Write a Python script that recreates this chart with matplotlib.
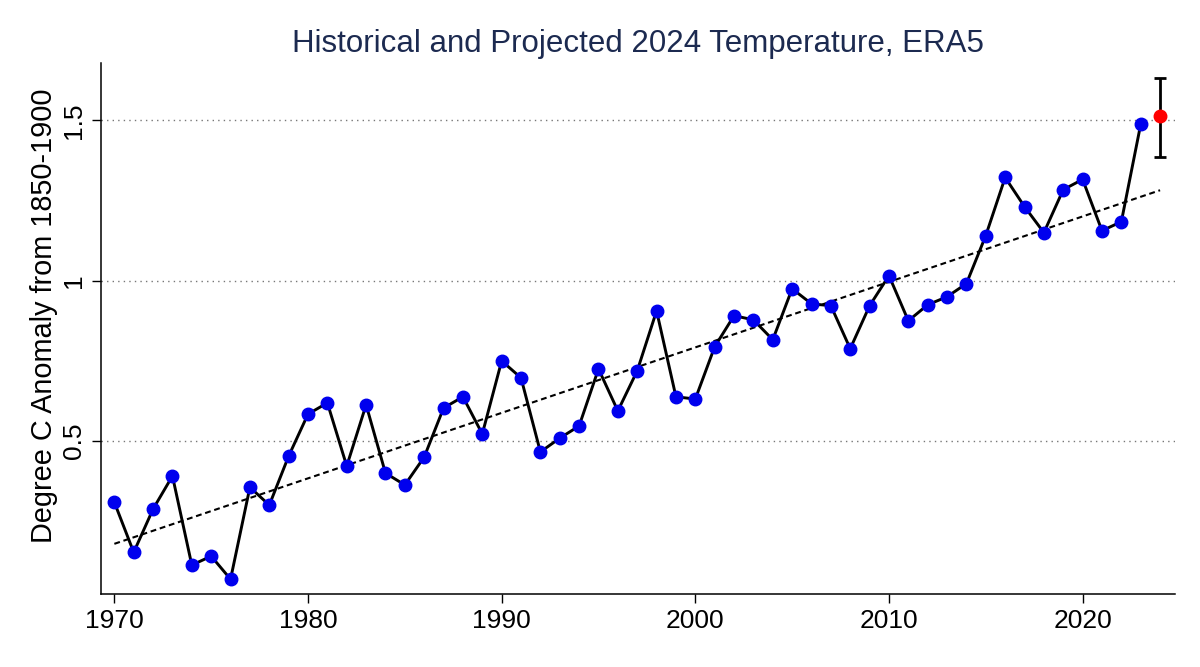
import matplotlib
matplotlib.use("Agg")
import matplotlib.pyplot as plt
import numpy as np

years = np.arange(1970, 2024)
anomaly = [0.309, 0.153, 0.288, 0.391, 0.113, 0.141, 0.069, 0.356, 0.300, 0.453,
           0.584, 0.619, 0.422, 0.613, 0.400, 0.363, 0.450, 0.603, 0.638, 0.522,
           0.750, 0.697, 0.466, 0.509, 0.547, 0.725, 0.594, 0.719, 0.906, 0.638,
           0.631, 0.794, 0.891, 0.878, 0.816, 0.975, 0.928, 0.922, 0.788, 0.922,
           1.016, 0.875, 0.925, 0.950, 0.991, 1.141, 1.322, 1.231, 1.150, 1.284,
           1.316, 1.156, 1.184, 1.488]
proj_year = 2024
proj_value = 1.513
proj_low = 1.385
proj_high = 1.633

plt.rcParams['font.family'] = ['Liberation Sans', 'DejaVu Sans']

fig = plt.figure(figsize=(12, 6.67), dpi=100)
ax = fig.add_axes([0.084, 0.109, 0.895, 0.797])

# linear trend fitted on the observed years, carried out to 2024
trend_x = np.arange(1970, 2025)
coef = np.polyfit(years, anomaly, 1)
ax.plot(trend_x, np.polyval(coef, trend_x), color='black', linestyle=(0, (2.8, 1.8)),
        linewidth=1.5, zorder=2)

ax.plot(years, anomaly, color='black', linewidth=2.1, zorder=3)
ax.plot(years, anomaly, 'o', color='#0000ee', markersize=9, zorder=4)

ax.errorbar([proj_year], [proj_value],
            yerr=[[proj_value - proj_low], [proj_high - proj_value]],
            fmt='none', ecolor='black', elinewidth=2, capsize=4.6, capthick=2, zorder=4)
ax.plot([proj_year], [proj_value], 'o', color='#ff0000', markersize=9, zorder=5)

ax.set_xlim(1969.3, 2024.76)
ax.set_ylim(0.022, 1.68)
ax.set_xticks([1970, 1980, 1990, 2000, 2010, 2020])
ax.set_yticks([0.5, 1, 1.5])
ax.set_yticklabels(['0.5', '1', '1.5'], rotation=90, va='center')

for y in [0.5, 1, 1.5]:
    ax.axhline(y, color='#777777', linestyle=(0, (1, 3)), linewidth=1, zorder=1)

for s in ['top', 'right']:
    ax.spines[s].set_visible(False)
ax.spines['left'].set_linewidth(1.1)
ax.spines['bottom'].set_linewidth(1.1)
ax.tick_params(axis='x', labelsize=19, length=6.5, width=1, pad=4)
ax.tick_params(axis='y', labelsize=19, length=6.5, width=1, pad=4.5)

ax.set_ylabel('Degree C Anomaly from 1850-1900', fontsize=20.8)
ax.yaxis.set_label_coords(-0.0398, 0.524)
ax.set_title('Historical and Projected 2024 Temperature, ERA5', fontsize=22.5,
             color='#1c2a50', pad=8)

fig.savefig('out.png', dpi=100)
